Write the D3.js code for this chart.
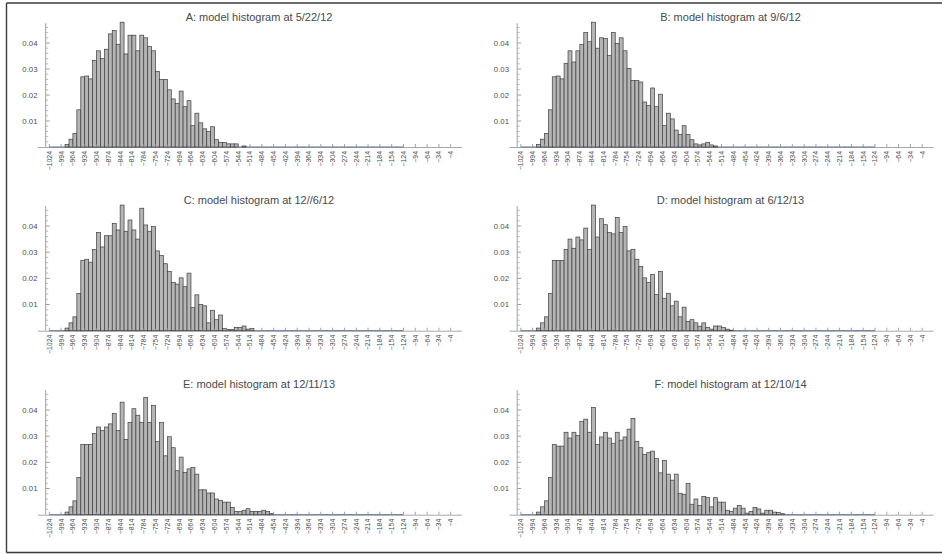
<!DOCTYPE html>
<html>
<head>
<meta charset="utf-8">
<script src="https://cdn.jsdelivr.net/npm/d3@7"></script>
<style>
  html, body { margin: 0; padding: 0; background: #fff; }
  svg { display: block; }
  text { font-family: "Liberation Sans", Arial, sans-serif; }
</style>
</head>
<body>
<svg id="chart" width="942" height="554"></svg>
<script>
// Histogram bins are 10 units wide; each entry is the left edge of a bin.
const binWidth = 10;
const binLeft = [-984, -974, -964, -954, -944, -934, -924, -914, -904, -894,
  -884, -874, -864, -854, -844, -834, -824, -814, -804, -794,
  -784, -774, -764, -754, -744, -734, -724, -714, -704, -694,
  -684, -674, -664, -654, -644, -634, -624, -614, -604, -594,
  -584, -574, -564, -554, -544, -534, -524, -514, -504, -494,
  -484, -474, -464, -454, -444, -434, -424, -414, -404, -394,
  -384, -374, -364];

// Full range covered by the histogram (empty bins shown along the axis)
const histRange = [-1024, -124];

const xTicks = [-1024, -994, -964, -934, -904, -874, -844, -814, -784, -754,
  -724, -694, -664, -634, -604, -574, -544, -514, -484, -454,
  -424, -394, -364, -334, -304, -274, -244, -214, -184, -154,
  -124, -94, -64, -34, -4];
const yTicks = [0.01, 0.02, 0.03, 0.04];
const yMinorTicks = [0.002, 0.004, 0.006, 0.008, 0.012, 0.014, 0.016, 0.018,
  0.022, 0.024, 0.026, 0.028, 0.032, 0.034, 0.036, 0.038, 0.042, 0.044, 0.046];

const titles = [
  "A: model histogram at 5/22/12",
  "B: model histogram at 9/6/12",
  "C: model histogram at 12//6/12",
  "D: model histogram at 6/12/13",
  "E: model histogram at 12/11/13",
  "F: model histogram at 12/10/14"
];

const histA = [0.001, 0.003, 0.0052, 0.0143, 0.027, 0.0273, 0.0262, 0.0333, 0.037, 0.034,
  0.0376, 0.0435, 0.0448, 0.0395, 0.048, 0.0358, 0.043, 0.043, 0.037, 0.043,
  0.042, 0.0386, 0.037, 0.029, 0.026, 0.026, 0.022, 0.0185, 0.0167, 0.0215,
  0.0155, 0.0178, 0.0082, 0.013, 0.0093, 0.007, 0.006, 0.0078, 0.0028, 0.0018,
  0.0017, 0.0012, 0.0012, 0.0012, 0, 0.0004];

const histB = [0.001, 0.003, 0.0052, 0.0143, 0.027, 0.0273, 0.0262, 0.0322, 0.037, 0.0327,
  0.037, 0.0395, 0.044, 0.0405, 0.048, 0.038, 0.042, 0.0418, 0.0352, 0.044,
  0.0398, 0.042, 0.037, 0.0302, 0.0256, 0.0256, 0.025, 0.0173, 0.016, 0.0227,
  0.0155, 0.0203, 0.0082, 0.013, 0.0108, 0.0065, 0.0048, 0.0082, 0.0048, 0.0028,
  0.0012, 0.0008, 0.0012, 0.0018, 0.0008, 0.0004];

const histC = [0.001, 0.003, 0.0053, 0.0142, 0.0268, 0.0273, 0.0262, 0.031, 0.0375, 0.032,
  0.0363, 0.0363, 0.041, 0.0385, 0.048, 0.038, 0.0423, 0.0385, 0.035, 0.0468,
  0.0404, 0.038, 0.0398, 0.0305, 0.0287, 0.0256, 0.0226, 0.0185, 0.0178, 0.0202,
  0.0168, 0.022, 0.0088, 0.0137, 0.01, 0.0095, 0.003, 0.0078, 0.0042, 0.006,
  0.0008, 0.0004, 0.0004, 0.0012, 0.0012, 0.0018, 0.0006, 0.0008];

const histD = [0.001, 0.003, 0.0053, 0.0142, 0.0268, 0.0268, 0.0268, 0.031, 0.035, 0.0315,
  0.0358, 0.0347, 0.0392, 0.031, 0.048, 0.0358, 0.0428, 0.0405, 0.0375, 0.037,
  0.0433, 0.0375, 0.0398, 0.0305, 0.031, 0.0273, 0.0245, 0.0202, 0.0185, 0.0215,
  0.0138, 0.0226, 0.0124, 0.0143, 0.0095, 0.0113, 0.0053, 0.009, 0.0035, 0.0042,
  0.003, 0.0017, 0.003, 0.0012, 0.0006, 0.0018, 0.0018, 0.0012, 0.0006, 0.0002];

const histE = [0.001, 0.003, 0.0053, 0.0142, 0.0268, 0.0268, 0.0268, 0.031, 0.0335, 0.0322,
  0.0335, 0.0347, 0.0387, 0.0322, 0.043, 0.0287, 0.0352, 0.0405, 0.038, 0.0353,
  0.0448, 0.0353, 0.0418, 0.028, 0.0352, 0.0225, 0.0298, 0.0256, 0.0168, 0.022,
  0.0162, 0.0175, 0.018, 0.0155, 0.0095, 0.0095, 0.0083, 0.0083, 0.006, 0.0055,
  0.0048, 0.0048, 0.0028, 0.0012, 0.0012, 0.0017, 0.0023, 0.0012, 0.0012, 0.0012,
  0.0017, 0.0012, 0.0004];

const histF = [0.001, 0.003, 0.0053, 0.0142, 0.0268, 0.0262, 0.0262, 0.0315, 0.0293, 0.0315,
  0.0303, 0.0357, 0.0365, 0.0315, 0.041, 0.0268, 0.0297, 0.0315, 0.0293, 0.0273,
  0.0315, 0.0285, 0.0297, 0.0327, 0.0368, 0.028, 0.0256, 0.023, 0.0237, 0.0243,
  0.0215, 0.016, 0.0207, 0.0155, 0.0132, 0.0155, 0.0082, 0.0078, 0.012, 0.004,
  0.006, 0.0035, 0.007, 0.0065, 0.003, 0.0065, 0.0048, 0.0048, 0.0017, 0.0012,
  0.0025, 0.0035, 0.0025, 0.0006, 0.0012, 0.0028, 0.0022, 0.0006, 0.0017, 0.0017,
  0.001, 0.0008, 0.0004];

const series = [histA, histB, histC, histD, histE, histF];

// ---- layout ----
const svg = d3.select("#chart");
const colOffsets = [0, 471.5];
const rowBaselines = [147, 330.7, 514.7];
const rowPxPerUnit = [2600, 2617, 2617];
const yTop = 0.0476;

const fmtMinus = v => String(v).replace("-", "\u2212");

// outer frame (top, left, bottom)
const frame = svg.append("g").attr("stroke", "#3a3a3a").attr("stroke-width", 1.4).attr("fill", "none");
frame.append("line").attr("x1", 6.5).attr("y1", 3).attr("x2", 942).attr("y2", 3);
frame.append("line").attr("x1", 6.5).attr("y1", 3).attr("x2", 6.5).attr("y2", 552.5);
frame.append("line").attr("x1", 6.5).attr("y1", 552.5).attr("x2", 942).attr("y2", 552.5);

series.forEach((vals, i) => {
  const col = i % 2, row = Math.floor(i / 2);
  const ox = colOffsets[col];
  const base = rowBaselines[row];
  const g = svg.append("g").attr("transform", `translate(${ox},0)`);

  const x = d3.scaleLinear().domain([-1024, -4]).range([49.3, 450.7]);
  const y = d3.scaleLinear().domain([0, yTop]).range([base, base - yTop * rowPxPerUnit[row]]);
  const axisX0 = 38, axisX1 = 462, yAxisX = 45.7;

  // title
  g.append("text")
    .attr("x", 259).attr("y", base - 126.5)
    .attr("text-anchor", "middle")
    .attr("font-size", 11)
    .attr("fill", "#4a4a4a")
    .text(titles[i]);

  // x axis line
  g.append("line")
    .attr("x1", axisX0).attr("x2", axisX1)
    .attr("y1", base + 0.5).attr("y2", base + 0.5)
    .attr("stroke", "#a8a8a8").attr("stroke-width", 1);

  // empty-bin baseline of the histogram
  g.append("line")
    .attr("x1", x(histRange[0])).attr("x2", x(histRange[1]))
    .attr("y1", base).attr("y2", base)
    .attr("stroke", "#5f7394").attr("stroke-width", 1);

  // bars
  const bins = vals.map((v, k) => ({ x0: binLeft[k], x1: binLeft[k] + binWidth, v }))
    .filter(d => d.v > 0);
  g.append("g").selectAll("rect").data(bins).join("rect")
    .attr("x", d => x(d.x0))
    .attr("width", d => x(d.x1) - x(d.x0))
    .attr("y", d => y(d.v))
    .attr("height", d => y(0) - y(d.v))
    .attr("fill", "#b5b5b5")
    .attr("stroke", "#3f3f3f")
    .attr("stroke-width", 0.7);

  // y axis
  g.append("line")
    .attr("x1", yAxisX).attr("x2", yAxisX)
    .attr("y1", base).attr("y2", y(yTop))
    .attr("stroke", "#a0a0a0").attr("stroke-width", 1);
  g.append("g").selectAll("line.maj").data(yTicks).join("line")
    .attr("x1", yAxisX).attr("x2", yAxisX + 4)
    .attr("y1", d => y(d)).attr("y2", d => y(d))
    .attr("stroke", "#a0a0a0").attr("stroke-width", 1);
  g.append("g").selectAll("line.min").data(yMinorTicks).join("line")
    .attr("x1", yAxisX).attr("x2", yAxisX + 2.5)
    .attr("y1", d => y(d)).attr("y2", d => y(d))
    .attr("stroke", "#a8a8a8").attr("stroke-width", 0.8);
  g.append("g").selectAll("text").data(yTicks).join("text")
    .attr("x", 37.5).attr("y", d => y(d))
    .attr("dy", "0.35em")
    .attr("text-anchor", "end")
    .attr("font-size", 7.8)
    .attr("fill", "#505050")
    .text(d => d.toFixed(2));

  // x ticks and rotated labels
  g.append("g").selectAll("line").data(xTicks).join("line")
    .attr("x1", d => x(d)).attr("x2", d => x(d))
    .attr("y1", base).attr("y2", base - 3)
    .attr("stroke", "#8a8a8a").attr("stroke-width", 0.8);
  g.append("g").selectAll("text").data(xTicks).join("text")
    .attr("transform", d => `translate(${x(d)},${base + 4}) rotate(-90)`)
    .attr("dy", "0.35em")
    .attr("text-anchor", "end")
    .attr("font-size", 6.9)
    .attr("fill", "#4a4a4a")
    .text(d => fmtMinus(d));
});
</script>
</body>
</html>
